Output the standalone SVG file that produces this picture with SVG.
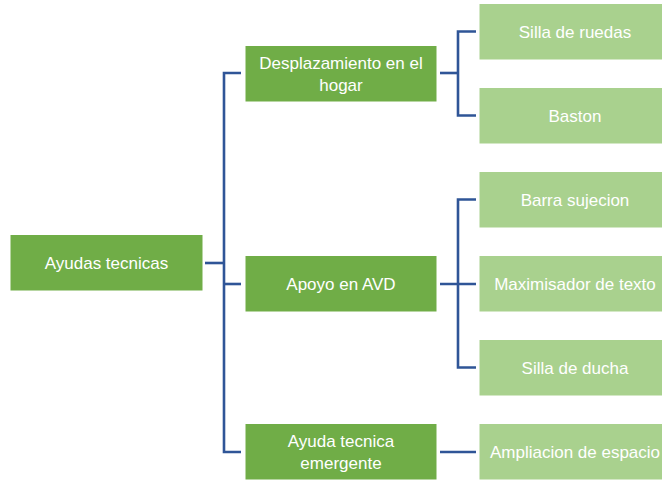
<svg xmlns="http://www.w3.org/2000/svg" width="662" height="481" viewBox="0 0 662 481">
<style>
.l1 rect{fill:#70AD47;stroke:#ffffff;stroke-width:1}
.l2 rect{fill:#A9D18E;stroke:#ffffff;stroke-width:1}
text{font-family:"Liberation Sans",Arial,sans-serif;font-size:17px;fill:#ffffff;text-anchor:middle}
#connectors path{fill:none;stroke:#2F5597;stroke-width:2.6}
</style>
<rect width="662" height="481" fill="#ffffff"/>
<g id="connectors">
<path d="M205,263 H224"/>
<path d="M241,73 H224 V452 H241"/>
<path d="M224,284 H241"/>
<path d="M440,73 H458"/>
<path d="M476,31.5 H458 V115.5 H476"/>
<path d="M440,284 H476"/>
<path d="M476,199.5 H458 V367.5 H476"/>
<path d="M440,452 H476"/>
</g>
<g id="n-root" class="l1"><rect x="10" y="234.5" width="193" height="56.5"/><text x="106.5" y="268.5">Ayudas tecnicas</text></g>
<g id="n-desplazamiento" class="l1"><rect x="245" y="45.5" width="192" height="56.5"/><text x="341" y="69">Desplazamiento en el</text><text x="341" y="90.5">hogar</text></g>
<g id="n-apoyo" class="l1"><rect x="245" y="255.5" width="192" height="56.5"/><text x="341" y="289.5">Apoyo en AVD</text></g>
<g id="n-emergente" class="l1"><rect x="245" y="423.5" width="192" height="56.5"/><text x="341" y="447">Ayuda tecnica</text><text x="341" y="468.5">emergente</text></g>
<g id="n-silla-ruedas" class="l2"><rect x="479" y="3.5" width="192" height="56.5"/><text x="575" y="37.5">Silla de ruedas</text></g>
<g id="n-baston" class="l2"><rect x="479" y="87.5" width="192" height="56.5"/><text x="575" y="121.5">Baston</text></g>
<g id="n-barra" class="l2"><rect x="479" y="171.5" width="192" height="56.5"/><text x="575" y="205.5">Barra sujecion</text></g>
<g id="n-maximisador" class="l2"><rect x="479" y="255.5" width="192" height="56.5"/><text x="575" y="289.5">Maximisador de texto</text></g>
<g id="n-silla-ducha" class="l2"><rect x="479" y="339.5" width="192" height="56.5"/><text x="575" y="373.5">Silla de ducha</text></g>
<g id="n-ampliacion" class="l2"><rect x="479" y="423.5" width="192" height="56.5"/><text x="575" y="457.5">Ampliacion de espacio</text></g>
</svg>
